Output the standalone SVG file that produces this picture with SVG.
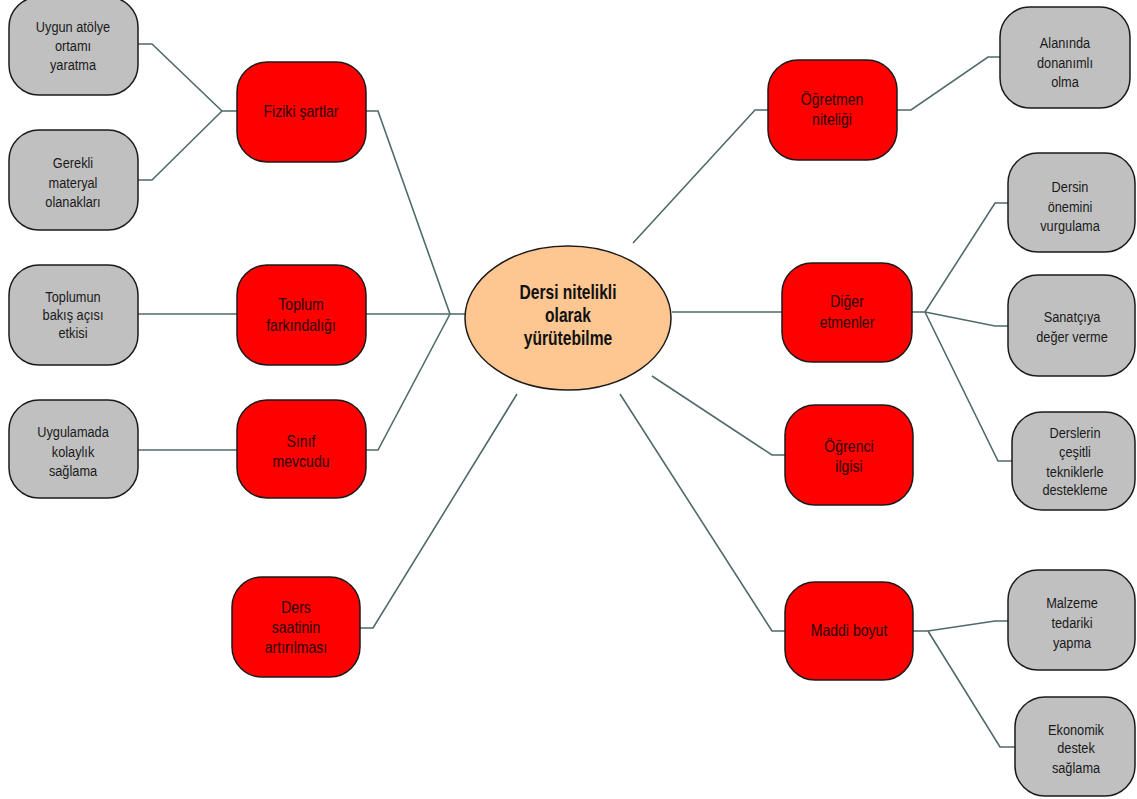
<svg xmlns="http://www.w3.org/2000/svg" width="1137" height="799" viewBox="0 0 1137 799">
<style>
.g{fill:#c0c0c0;stroke:#1a1a1a;stroke-width:1.5}
.r{fill:#ff0000;stroke:#1a1a1a;stroke-width:1.5}
.c{fill:#fec690;stroke:#1a1a1a;stroke-width:1.5}
.t{font-family:"Liberation Sans",Arial,sans-serif;font-size:14.5px;fill:#1a1a1a;text-anchor:middle}
.tr{font-family:"Liberation Sans",Arial,sans-serif;font-size:16px;fill:#2a0000;text-anchor:middle}
.tc{font-family:"Liberation Sans",Arial,sans-serif;font-size:20px;font-weight:bold;fill:#111;text-anchor:middle}
.l{fill:none;stroke:#4f6a6a;stroke-width:1.6}
</style>
<rect width="1137" height="799" fill="#ffffff"/>
<g id="connectors">
<polyline class="l" points="138,44 152,44 222,111 237,111"/>
<polyline class="l" points="138,180 152,180 222,111"/>
<polyline class="l" points="366,111 378,111 450,314 465,314"/>
<polyline class="l" points="138,314 237,314"/>
<polyline class="l" points="366,314 450,314"/>
<polyline class="l" points="138,450 237,450"/>
<polyline class="l" points="366,450 378,450 450,314"/>
<polyline class="l" points="360,628 373,628 517,394"/>
<polyline class="l" points="633,243 755,110 768,110"/>
<polyline class="l" points="897,110 911,110 988,57 1000,57"/>
<polyline class="l" points="672,312 782,312"/>
<polyline class="l" points="912,312 925,312 995,203 1008,203"/>
<polyline class="l" points="925,312 995,326 1008,326"/>
<polyline class="l" points="925,312 998,461 1012,461"/>
<polyline class="l" points="652,376 772,455 785,455"/>
<polyline class="l" points="620,394 772,631 785,631"/>
<polyline class="l" points="913,631 928,631 995,621 1008,621"/>
<polyline class="l" points="928,631 1000,747 1015,747"/>
</g>
<g id="center">
<ellipse class="c" cx="568" cy="318" rx="103" ry="72"/>
<g transform="translate(568 0) scale(0.78 1)">
<text class="tc" x="0" y="299">Dersi nitelikli</text>
<text class="tc" x="0" y="322">olarak</text>
<text class="tc" x="0" y="345">yürütebilme</text>
</g>
</g>
<g id="fiziki">
<rect class="r" x="237" y="62" width="129" height="100" rx="30"/>
<g transform="translate(301 0) scale(0.88 1)"><text class="tr" x="0" y="117">Fiziki şartlar</text></g>
</g>
<g id="uygun">
<rect class="g" x="9" y="-3" width="129" height="98" rx="30"/>
<g transform="translate(73 0) scale(0.88 1)">
<text class="t" x="0" y="32">Uygun atölye</text>
<text class="t" x="0" y="51">ortamı</text>
<text class="t" x="0" y="70">yaratma</text>
</g>
</g>
<g id="gerekli">
<rect class="g" x="9" y="130" width="129" height="100" rx="30"/>
<g transform="translate(73 0) scale(0.88 1)">
<text class="t" x="0" y="168">Gerekli</text>
<text class="t" x="0" y="188">materyal</text>
<text class="t" x="0" y="207">olanakları</text>
</g>
</g>
<g id="toplum">
<rect class="r" x="237" y="265" width="129" height="100" rx="30"/>
<g transform="translate(301 0) scale(0.88 1)">
<text class="tr" x="0" y="310">Toplum</text>
<text class="tr" x="0" y="331">farkındalığı</text>
</g>
</g>
<g id="toplumun">
<rect class="g" x="9" y="265" width="129" height="100" rx="30"/>
<g transform="translate(73 0) scale(0.88 1)">
<text class="t" x="0" y="302">Toplumun</text>
<text class="t" x="0" y="320">bakış açısı</text>
<text class="t" x="0" y="338">etkisi</text>
</g>
</g>
<g id="sinif">
<rect class="r" x="237" y="400" width="129" height="98" rx="30"/>
<g transform="translate(301 0) scale(0.88 1)">
<text class="tr" x="0" y="447">Sınıf</text>
<text class="tr" x="0" y="467">mevcudu</text>
</g>
</g>
<g id="uygulamada">
<rect class="g" x="9" y="400" width="129" height="98" rx="30"/>
<g transform="translate(73 0) scale(0.88 1)">
<text class="t" x="0" y="437">Uygulamada</text>
<text class="t" x="0" y="457">kolaylık</text>
<text class="t" x="0" y="476">sağlama</text>
</g>
</g>
<g id="ders-saati">
<rect class="r" x="232" y="577" width="128" height="100" rx="30"/>
<g transform="translate(296 0) scale(0.88 1)">
<text class="tr" x="0" y="613">Ders</text>
<text class="tr" x="0" y="633">saatinin</text>
<text class="tr" x="0" y="653">artırılması</text>
</g>
</g>
<g id="ogretmen">
<rect class="r" x="768" y="60" width="129" height="100" rx="30"/>
<g transform="translate(832 0) scale(0.88 1)">
<text class="tr" x="0" y="105">Öğretmen</text>
<text class="tr" x="0" y="125">niteliği</text>
</g>
</g>
<g id="alaninda">
<rect class="g" x="1000" y="7" width="130" height="101" rx="30"/>
<g transform="translate(1065 0) scale(0.88 1)">
<text class="t" x="0" y="48">Alanında</text>
<text class="t" x="0" y="68">donanımlı</text>
<text class="t" x="0" y="87">olma</text>
</g>
</g>
<g id="diger">
<rect class="r" x="782" y="263" width="130" height="99" rx="30"/>
<g transform="translate(847 0) scale(0.88 1)">
<text class="tr" x="0" y="307">Diğer</text>
<text class="tr" x="0" y="328">etmenler</text>
</g>
</g>
<g id="dersin">
<rect class="g" x="1008" y="153" width="127" height="99" rx="30"/>
<g transform="translate(1070 0) scale(0.88 1)">
<text class="t" x="0" y="192">Dersin</text>
<text class="t" x="0" y="212">önemini</text>
<text class="t" x="0" y="231">vurgulama</text>
</g>
</g>
<g id="sanatci">
<rect class="g" x="1008" y="275" width="127" height="101" rx="30"/>
<g transform="translate(1072 0) scale(0.88 1)">
<text class="t" x="0" y="322">Sanatçıya</text>
<text class="t" x="0" y="342">değer verme</text>
</g>
</g>
<g id="derslerin">
<rect class="g" x="1012" y="412" width="123" height="98" rx="30"/>
<g transform="translate(1075 0) scale(0.88 1)">
<text class="t" x="0" y="438">Derslerin</text>
<text class="t" x="0" y="457">çeşitli</text>
<text class="t" x="0" y="477">tekniklerle</text>
<text class="t" x="0" y="495">destekleme</text>
</g>
</g>
<g id="ogrenci">
<rect class="r" x="785" y="405" width="128" height="100" rx="30"/>
<g transform="translate(849 0) scale(0.88 1)">
<text class="tr" x="0" y="452">Öğrenci</text>
<text class="tr" x="0" y="472">ilgisi</text>
</g>
</g>
<g id="maddi">
<rect class="r" x="785" y="582" width="128" height="98" rx="30"/>
<g transform="translate(849 0) scale(0.88 1)"><text class="tr" x="0" y="636">Maddi boyut</text></g>
</g>
<g id="malzeme">
<rect class="g" x="1008" y="570" width="127" height="100" rx="30"/>
<g transform="translate(1072 0) scale(0.88 1)">
<text class="t" x="0" y="608">Malzeme</text>
<text class="t" x="0" y="628">tedariki</text>
<text class="t" x="0" y="648">yapma</text>
</g>
</g>
<g id="ekonomik">
<rect class="g" x="1015" y="697" width="120" height="99" rx="30"/>
<g transform="translate(1076 0) scale(0.88 1)">
<text class="t" x="0" y="735">Ekonomik</text>
<text class="t" x="0" y="753">destek</text>
<text class="t" x="0" y="773">sağlama</text>
</g>
</g>
</svg>
